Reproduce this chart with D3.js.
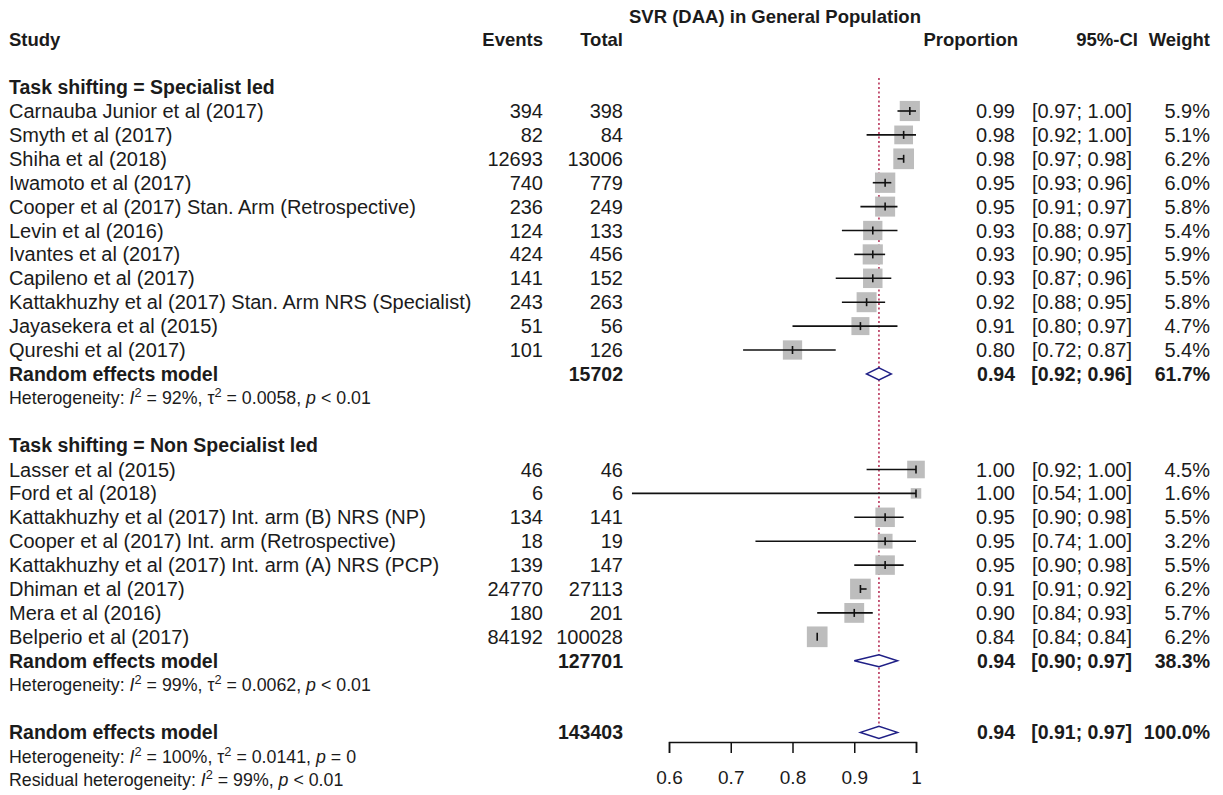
<!DOCTYPE html>
<html>
<head>
<meta charset="utf-8">
<script src="https://cdn.jsdelivr.net/npm/d3@7"></script>
<style>
  html, body { margin: 0; padding: 0; background: #fff; }
  svg { display: block; }
  text { font-family: "Liberation Sans", Arial, Helvetica, sans-serif; fill: #1b1b1b; }
</style>
</head>
<body>
<svg id="chart" width="1223" height="795"></svg>
<script>
// ---- Subgroup 1: specialist led ----
const studies1 = [
  "Carnauba Junior et al (2017)",
  "Smyth et al (2017)",
  "Shiha et al (2018)",
  "Iwamoto et al (2017)",
  "Cooper et al (2017) Stan. Arm (Retrospective)",
  "Levin et al (2016)",
  "Ivantes et al (2017)",
  "Capileno et al (2017)",
  "Kattakhuzhy et al (2017) Stan. Arm NRS (Specialist)",
  "Jayasekera et al (2015)",
  "Qureshi et al (2017)"
];
const events1 = [394, 82, 12693, 740, 236, 124, 424, 141, 243, 51, 101];
const total1  = [398, 84, 13006, 779, 249, 133, 456, 152, 263, 56, 126];
const prop1   = [0.99, 0.98, 0.98, 0.95, 0.95, 0.93, 0.93, 0.93, 0.92, 0.91, 0.80];
const lower1  = [0.97, 0.92, 0.97, 0.93, 0.91, 0.88, 0.90, 0.87, 0.88, 0.80, 0.72];
const upper1  = [1.00, 1.00, 0.98, 0.96, 0.97, 0.97, 0.95, 0.96, 0.95, 0.97, 0.87];
const weight1 = [5.9, 5.1, 6.2, 6.0, 5.8, 5.4, 5.9, 5.5, 5.8, 4.7, 5.4];

// ---- Subgroup 2: non specialist led ----
const studies2 = [
  "Lasser et al (2015)",
  "Ford et al (2018)",
  "Kattakhuzhy et al (2017) Int. arm (B) NRS (NP)",
  "Cooper et al (2017) Int. arm (Retrospective)",
  "Kattakhuzhy et al (2017) Int. arm (A) NRS (PCP)",
  "Dhiman et al (2017)",
  "Mera et al (2016)",
  "Belperio et al (2017)"
];
const events2 = [46, 6, 134, 18, 139, 24770, 180, 84192];
const total2  = [46, 6, 141, 19, 147, 27113, 201, 100028];
const prop2   = [1.00, 1.00, 0.95, 0.95, 0.95, 0.91, 0.90, 0.84];
const lower2  = [0.92, 0.54, 0.90, 0.74, 0.90, 0.91, 0.84, 0.84];
const upper2  = [1.00, 1.00, 0.98, 1.00, 0.98, 0.92, 0.93, 0.84];
const weight2 = [4.5, 1.6, 5.5, 3.2, 5.5, 6.2, 5.7, 6.2];

// ---- Pooled random effects estimates: subgroup 1, subgroup 2, overall ----
const pooledTotal  = [15702, 127701, 143403];
const pooledProp   = [0.94, 0.94, 0.94];
const pooledLower  = [0.92, 0.90, 0.91];
const pooledUpper  = [0.96, 0.97, 0.97];
const pooledWeight = [61.7, 38.3, 100.0];

const groupLabels = ["Task shifting = Specialist led", "Task shifting = Non Specialist led"];
const hetI2   = ["92%", "99%", "100%"];
const hetTau2 = ["0.0058", "0.0062", "0.0141"];
const hetP    = ["< 0.01", "< 0.01", "= 0"];
const residI2 = "99%";
const residP  = "< 0.01";

const axisTicks = [0.6, 0.7, 0.8, 0.9, 1];
const title = "SVR (DAA) in General Population";

// ---------------------------------------------------------------
const svg = d3.select("#chart");
const x = d3.scaleLinear().domain([0.6, 1]).range([669, 916]);
const row = d3.scaleLinear().domain([0, 28]).range([111, 780.2]);

const FS = 20, FS_BOLD = 19.5, FS_HEAD = 18.5, FS_HET = 17.8;
const COL = { study: 9, events: 543, total: 623, prop: 1015, ci: 1132, weight: 1210 };

const f2 = v => v.toFixed(2);
const ciText = (l, u) => "[" + f2(l) + "; " + f2(u) + "]";
const wText = w => w.toFixed(1) + "%";

function txt(xp, yp, s, opts = {}) {
  return svg.append("text")
    .attr("x", xp).attr("y", yp).attr("dy", "0.35em")
    .attr("text-anchor", opts.anchor || "start")
    .attr("font-size", opts.size || (opts.bold ? FS_BOLD : FS))
    .attr("font-weight", opts.bold ? "bold" : "normal")
    .text(s);
}

// heterogeneity line with italic symbols and superscripts
function hetLine(yp, parts) {
  const t = svg.append("text")
    .attr("x", COL.study).attr("y", yp).attr("dy", "0.35em")
    .attr("font-size", FS_HET);
  let raised = false;
  parts.forEach(p => {
    const ts = t.append("tspan").text(p.t);
    if (p.it) ts.attr("font-style", "italic");
    if (p.sup) {
      ts.attr("font-size", FS_HET * 0.72).attr("dy", -7);
      raised = true;
    } else if (raised) {
      ts.attr("dy", 7);
      raised = false;
    }
  });
}
function hetParts(i2, tau2, p) {
  const parts = [{ t: "Heterogeneity: " }, { t: "I", it: true }, { t: "2", sup: true }, { t: " = " + i2 + ", " }];
  if (tau2 !== null) parts.push({ t: "\u03C4" }, { t: "2", sup: true }, { t: " = " + tau2 + ", " });
  parts.push({ t: "p", it: true }, { t: " " + p });
  return parts;
}

// ---- title and column headers ----
txt(775, 17, title, { anchor: "middle", bold: true, size: FS_HEAD });
const headY = row(-3);
txt(COL.study, headY, "Study", { bold: true, size: FS_HEAD });
txt(COL.events, headY, "Events", { bold: true, size: FS_HEAD, anchor: "end" });
txt(COL.total, headY, "Total", { bold: true, size: FS_HEAD, anchor: "end" });
txt(1018, headY, "Proportion", { bold: true, size: FS_HEAD, anchor: "end" });
txt(1138, headY, "95%-CI", { bold: true, size: FS_HEAD, anchor: "end" });
txt(COL.weight, headY, "Weight", { bold: true, size: FS_HEAD, anchor: "end" });

// ---- random effects reference line ----
svg.append("line")
  .attr("x1", x(pooledProp[2])).attr("x2", x(pooledProp[2]))
  .attr("y1", row(-1) - 9).attr("y2", row(26) + 3)
  .attr("stroke", "#b3264f").attr("stroke-width", 1.5)
  .attr("stroke-dasharray", "2,2.5");

// ---- study rows ----
const groups = [
  { start: 0, names: studies1, ev: events1, n: total1, p: prop1, lo: lower1, hi: upper1, w: weight1 },
  { start: 15, names: studies2, ev: events2, n: total2, p: prop2, lo: lower2, hi: upper2, w: weight2 }
];
const pooledRow = [11, 23, 26];

groups.forEach((g, gi) => {
  txt(COL.study, row(g.start - 1), groupLabels[gi], { bold: true });
  const data = g.names.map((name, i) => ({
    name, ev: g.ev[i], n: g.n[i], p: g.p[i], lo: g.lo[i], hi: g.hi[i], w: g.w[i], y: row(g.start + i)
  }));
  data.forEach(d => {
    txt(COL.study, d.y, d.name);
    txt(COL.events, d.y, d.ev, { anchor: "end" });
    txt(COL.total, d.y, d.n, { anchor: "end" });
    txt(COL.prop, d.y, f2(d.p), { anchor: "end" });
    txt(COL.ci, d.y, ciText(d.lo, d.hi), { anchor: "end" });
    txt(COL.weight, d.y, wText(d.w), { anchor: "end" });
  });
  const m = svg.append("g").selectAll("g").data(data).join("g");
  m.append("rect")
    .attr("x", d => x(d.p) - 4.15 * Math.sqrt(d.w))
    .attr("y", d => d.y - 4.15 * Math.sqrt(d.w))
    .attr("width", d => 8.3 * Math.sqrt(d.w))
    .attr("height", d => 8.3 * Math.sqrt(d.w))
    .attr("fill", "#bdbdbd");
  m.append("line")
    .attr("x1", d => x(d.lo)).attr("x2", d => x(d.hi))
    .attr("y1", d => d.y).attr("y2", d => d.y)
    .attr("stroke", "#111").attr("stroke-width", 1.6);
  m.append("line")
    .attr("x1", d => x(d.p)).attr("x2", d => x(d.p))
    .attr("y1", d => d.y - 4).attr("y2", d => d.y + 4)
    .attr("stroke", "#111").attr("stroke-width", 1.6);

  // subgroup pooled estimate
  const yp = row(pooledRow[gi]);
  txt(COL.study, yp, "Random effects model", { bold: true });
  txt(COL.total, yp, pooledTotal[gi], { bold: true, anchor: "end" });
  txt(COL.prop, yp, f2(pooledProp[gi]), { bold: true, anchor: "end" });
  txt(COL.ci, yp, ciText(pooledLower[gi], pooledUpper[gi]), { bold: true, anchor: "end" });
  txt(COL.weight, yp, wText(pooledWeight[gi]), { bold: true, anchor: "end" });
  hetLine(row(pooledRow[gi] + 1), hetParts(hetI2[gi], hetTau2[gi], hetP[gi]));
});

// ---- overall pooled estimate ----
const yo = row(pooledRow[2]);
txt(COL.study, yo, "Random effects model", { bold: true });
txt(COL.total, yo, pooledTotal[2], { bold: true, anchor: "end" });
txt(COL.prop, yo, f2(pooledProp[2]), { bold: true, anchor: "end" });
txt(COL.ci, yo, ciText(pooledLower[2], pooledUpper[2]), { bold: true, anchor: "end" });
txt(COL.weight, yo, wText(pooledWeight[2]), { bold: true, anchor: "end" });
hetLine(row(27), hetParts(hetI2[2], hetTau2[2], hetP[2]));
hetLine(row(28), [{ t: "Residual heterogeneity: " }, { t: "I", it: true }, { t: "2", sup: true },
  { t: " = " + residI2 + ", " }, { t: "p", it: true }, { t: " " + residP }]);

// ---- diamonds for pooled estimates ----
const diamonds = pooledProp.map((p, i) => ({ p, lo: pooledLower[i], hi: pooledUpper[i], y: row(pooledRow[i]) }));
svg.append("g").selectAll("path").data(diamonds).join("path")
  .attr("d", d => `M${x(d.lo)},${d.y}L${x(d.p)},${d.y - 6}L${x(d.hi)},${d.y}L${x(d.p)},${d.y + 6}Z`)
  .attr("fill", "#fff").attr("stroke", "#1f1f86").attr("stroke-width", 1.5);

// ---- x axis ----
const axis = d3.axisBottom(x)
  .tickValues(axisTicks)
  .tickFormat(d3.format("~g"))
  .tickSize(11).tickSizeOuter(11).tickPadding(18);
const ga = svg.append("g").attr("transform", "translate(0,742)").call(axis);
ga.selectAll("path, line").attr("stroke", "#111").attr("stroke-width", 1.5);
ga.selectAll("text").attr("font-size", 19).attr("fill", "#1b1b1b")
  .attr("font-family", "'Liberation Sans', Arial, sans-serif");
</script>
</body>
</html>
